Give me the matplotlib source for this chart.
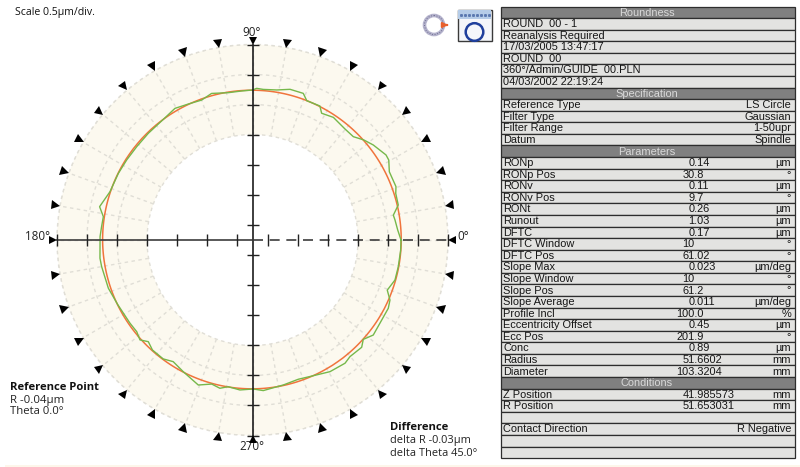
import numpy as np
import matplotlib
matplotlib.use('Agg')
import matplotlib.pyplot as plt
from matplotlib.markers import MarkerStyle
from matplotlib.patches import Rectangle, Circle
from matplotlib.transforms import Affine2D

# %% data: radial values are micrometres above the inner ring
profile_deg = [0, 4, 8, 10, 13.5, 18, 20.4, 26.5, 30.4, 32.5, 38.2, 42, 45.7, 50.2, 56.6, 61.4, 63.3, 68.7, 70.9, 76,
               80.8, 85.9, 88.4, 90, 94.1, 99.3, 105.6, 110, 115.3, 120.5, 126.5, 134.3, 141.1, 147.5, 153.6, 161.3,
               167.7, 171.1, 175, 178.7, 186.8, 190, 198.5, 205.5, 214.2, 218.4, 221.6, 224.3, 227.7, 233.1, 236.9,
               242.3, 249.5, 254.2, 257.6, 260.6, 265.2, 270.3, 274.1, 278.7, 282, 288.2, 294.1, 300.5, 306.9, 309.9,
               315.5, 318.1, 321.8, 328.2, 333.3, 336.4, 339.6, 344.3, 349.6, 356.1, 360]
profile_um = [.717, .667, .640, .625, .740, .752, .793, .790, .875, .880, .803, .735, .648, .650, .690, .648, .742, .733,
              .828, .830, .775, .758, .770, .742, .732, .730, .778, .723, .748, .788, .742, .727, .720, .727, .738, .750,
              .850, .758, .767, .783, .802, .795, .775, .733, .710, .703, .750, .668, .720, .720, .662, .722, .822, .737,
              .772, .720, .750, .725, .758, .725, .712, .685, .720, .788, .810, .775, .793, .722, .803, .775, .775, .742,
              .638, .708, .712, .717, .717]
ref_deg = list(range(0, 370, 10))
ref_um = [.720, .722, .724, .726, .728, .730, .732, .735, .737, .738, .740, .741, .742, .743, .743, .743, .742, .741,
          .740, .738, .737, .735, .732, .730, .728, .726, .724, .722, .721, .719, .718, .718, .717, .718, .718, .719, .720]

ring_um = [0, 0.5, 1.0, 1.5]
cross_um = [1.5, 1.0, 0.5, 0, -0.5, -1.0, -1.5]
inner_offset_um = 1.758

summary_lines = ['ROUND  00 - 1', 'Reanalysis Required', '17/03/2005 13:47:17', 'ROUND  00',
                 '360°/Admin/GUIDE  00.PLN', '04/03/2002 22:19:24']
spec_names = ['Reference Type', 'Filter Type', 'Filter Range', 'Datum']
spec_values = ['LS Circle', 'Gaussian', '1-50upr', 'Spindle']
param_names = ['RONp', 'RONp Pos', 'RONv', 'RONv Pos', 'RONt', 'Runout', 'DFTC', 'DFTC Window', 'DFTC Pos', 'Slope Max',
               'Slope Window', 'Slope Pos', 'Slope Average', 'Profile Incl', 'Eccentricity Offset', 'Ecc Pos', 'Conc',
               'Radius', 'Diameter']
param_values = ['0.14', '30.8', '0.11', '9.7', '0.26', '1.03', '0.17', '10', '61.02', '0.023', '10', '61.2', '0.011',
                '100.0', '0.45', '201.9', '0.89', '51.6602', '103.3204']
param_units = ['µm', '°', 'µm', '°', 'µm', 'µm', 'µm', '°', '°', 'µm/deg', '°', '°', 'µm/deg', '%', 'µm', '°', 'µm',
               'mm', 'mm']
cond_names = ['Z Position', 'R Position']
cond_values = ['41.985573', '51.653031']

fig = plt.figure(figsize=(8, 4.67), dpi=100, facecolor='white')

# pixel overlay for the table and the loose labels
px = fig.add_axes([0, 0, 1, 1])
px.set_xlim(0, 800)
px.set_ylim(467, 0)
px.axis('off')

# %% polar plot
cx, cy, rad = 252.5, 240, 195.5
grid_col = '#e0ded6'
ax = fig.add_axes([(cx - rad) / 800, (467 - cy - rad) / 467, 2 * rad / 800, 2 * rad / 467], projection='polar')
ax.set_facecolor('#fcf9ef')
for s in ax.spines.values():
    s.set_edgecolor('none')
ax.set_thetagrids(np.arange(0, 360, 10), labels=[])
ax.set_rgrids(ring_um[1:], labels=[])
ax.grid(True, color=grid_col, lw=1, ls=(0, (2.5, 2.5)))

# inner and outer ring sit on the edge of the annulus
t = np.deg2rad(ref_deg)
for r in (ring_um[0], ring_um[-1]):
    ring, = ax.plot(t, np.full(len(t), r), color=grid_col, lw=1, ls=(0, (2.5, 2.5)), clip_on=False)
    ring.get_path()._interpolation_steps = 10

ref_line, = ax.plot(np.deg2rad(ref_deg), ref_um, color='#f0743c', lw=1.1, zorder=4)
ref_line.get_path()._interpolation_steps = 10
ax.plot(np.deg2rad(profile_deg), profile_um, color='#76b84a', lw=1.0, zorder=5)

# cross lines
ax.plot([np.pi / 2, np.pi / 2], [1.5, -inner_offset_um], color='#1c1c1c', lw=1.2, clip_on=False, zorder=6)
ax.plot([3 * np.pi / 2, 3 * np.pi / 2], [1.5, -inner_offset_um], color='#1c1c1c', lw=1.2, clip_on=False, zorder=6)
ax.plot([np.pi, np.pi], [1.5, -inner_offset_um], color='#3c3c3c', lw=1.2, clip_on=False, zorder=6)
ax.plot([0, 0], [-inner_offset_um, 1.5], color='#3c3c3c', lw=1.2, ls=(0, (6, 4)), clip_on=False, zorder=6)
for r in cross_um:
    ax.plot([np.pi, 0], [r, r], ls='none', marker='|', ms=9, mew=1, color='#222222', clip_on=False, zorder=6)
    ax.plot([np.pi / 2, 3 * np.pi / 2], [r, r], ls='none', marker='_', ms=9, mew=1, color='#222222', clip_on=False, zorder=6)

# triangles round the outside
for deg in range(0, 360, 10):
    m = MarkerStyle('^', transform=Affine2D().rotate_deg(deg + 90))
    ax.plot([np.deg2rad(deg)], [1.565], marker=m, ms=6.3, color='black', mew=0, clip_on=False, zorder=7)

ax.set_rlim(0, 1.5)
ax.set_rorigin(-inner_offset_um)

# %% loose labels
lab_font = ['Open Sans', 'DejaVu Sans']
px.text(15, 13, 'Scale 0.5µm/div.', fontsize=7.6, family=lab_font, va='center', color='#111111')
px.text(252, 33, '90°', fontsize=8.4, family=lab_font, ha='center', va='center', color='#222222')
px.text(252, 447, '270°', fontsize=8.4, family=lab_font, ha='center', va='center', color='#222222')
px.text(38, 236, '180°', fontsize=8.4, family=lab_font, ha='center', va='center', color='#222222')
px.text(463, 237, '0°', fontsize=8.4, family=lab_font, ha='center', va='center', color='#222222')
px.text(10, 388, 'Reference Point', fontsize=8.1, family=lab_font, weight='bold', va='center', color='#111111')
px.text(10, 400, 'R -0.04µm', fontsize=8.2, family=lab_font, va='center', color='#222222')
px.text(10, 412, 'Theta 0.0°', fontsize=8.1, family=lab_font, va='center', color='#222222')
px.text(390, 428, 'Difference', fontsize=8.1, family=lab_font, weight='bold', va='center', color='#111111')
px.text(390, 441, 'delta R -0.03µm', fontsize=7.9, family=lab_font, va='center', color='#222222')
px.text(390, 453, 'delta Theta 45.0°', fontsize=7.9, family=lab_font, va='center', color='#222222')
px.add_patch(Rectangle((5, 465), 795, 2, fc='#fdf6ea', ec='none'))

# %% icons
px.add_patch(Circle((434, 25), 9.5, fc='none', ec='#b4b2cc', lw=2.6))
px.add_patch(Circle((434, 25), 9.5, fc='none', ec='#6f6f90', lw=0.7, ls=':'))
px.annotate('', xy=(451, 25), xytext=(444, 25), arrowprops=dict(arrowstyle='-|>', color='#e8602c', lw=1.6, mutation_scale=7))
px.add_patch(Rectangle((457.5, 9.5), 34, 31.5, fc='#f4f6fa', ec='#3a3a3a', lw=1))
px.add_patch(Rectangle((458, 10), 33, 9, fc='#b5cce8', ec='none'))
px.plot(np.arange(461, 491, 4), np.full(8, 15), ls='none', marker='s', ms=1.1, color='#5a78b0')
px.add_patch(Circle((474.5, 32), 8.8, fc='none', ec='#1f3f9c', lw=1.8))

# %% table
x0, x1 = 500.5, 795
row_h = 11.58
y_top = 6.5
txt_font = ['Liberation Sans', 'DejaVu Sans']
row_no = 0


def row_box(header=False):
    global row_no
    y = y_top + row_no * row_h
    px.add_patch(Rectangle((x0, y), x1 - x0, row_h, fc='#808080' if header else '#e3e3e1', ec='#2e2e2e', lw=0.9))
    row_no += 1
    return y + row_h / 2 + 0.3


def header_row(name):
    y = row_box(header=True)
    px.text(647, y, name, fontsize=7.9, family=txt_font, ha='center', va='center', color='#d9d9d9')


def data_row(name='', value='', unit=''):
    y = row_box()
    px.text(503, y, name, fontsize=7.9, family=txt_font, va='center', color='#161616')
    if value:
        # values line up on the decimal point
        digits = len(value.split('.')[0])
        px.text(694.5 - 6.1 * digits, y, value, fontsize=7.9, family=txt_font, va='center', color='#161616')
    if unit:
        px.text(791, y, unit, fontsize=7.9, family=txt_font, ha='right', va='center', color='#161616')


header_row('Roundness')
for s in summary_lines:
    data_row(s)
header_row('Specification')
for n, v in zip(spec_names, spec_values):
    data_row(n, unit=v)
header_row('Parameters')
for n, v, u in zip(param_names, param_values, param_units):
    data_row(n, v, u)
header_row('Conditions')
for n, v in zip(cond_names, cond_values):
    data_row(n, v, 'mm')
data_row()
data_row('Contact Direction', unit='R Negative')
data_row()
data_row()

fig.savefig('out.png', dpi=100)
